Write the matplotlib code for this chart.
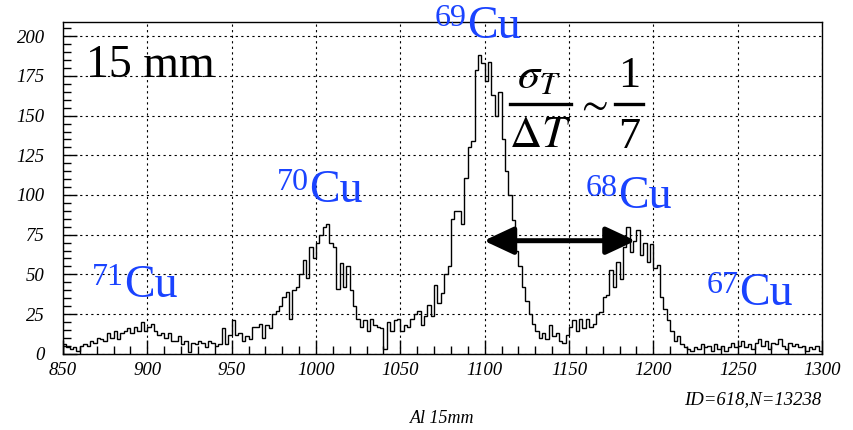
import matplotlib
matplotlib.use('Agg')
import matplotlib.pyplot as plt
import numpy as np
from matplotlib.lines import Line2D
from matplotlib.ticker import MultipleLocator

plt.rcParams['font.family'] = ['Liberation Serif', 'DejaVu Serif']
plt.rcParams['mathtext.fontset'] = 'stix'

# ---- data: 2-unit bins from 850 to 1300 ----
x_min, x_max, bin_w = 850, 1300, 2
counts_850 = [6, 4, 3, 4, 2, 5, 6, 5, 8, 7, 10, 9, 8, 13, 10, 14, 9, 13, 14, 16, 13, 17, 14, 20, 14]
counts_900 = [17, 19, 14, 12, 13, 10, 13, 8, 8, 11, 6, 8, 1, 7, 6, 8, 7, 4, 8, 7, 5, 6, 16, 6, 12]
counts_950 = [21, 12, 13, 8, 11, 9, 17, 17, 19, 10, 18, 16, 25, 27, 30, 36, 39, 22, 40, 42, 50, 59, 48, 67, 60]
counts_1000 = [70, 75, 80, 82, 70, 67, 41, 57, 42, 55, 40, 30, 22, 17, 21, 14, 22, 18, 17, 16, 3, 20, 14, 21, 22]
counts_1050 = [14, 18, 17, 22, 25, 27, 18, 24, 31, 24, 43, 32, 38, 50, 55, 85, 90, 90, 82, 111, 130, 134, 179, 188, 183]
counts_1100 = [172, 184, 163, 150, 165, 135, 115, 100, 84, 65, 55, 42, 33, 25, 19, 14, 10, 13, 9, 18, 11, 13, 8, 7, 12]
counts_1150 = [17, 21, 14, 22, 16, 22, 17, 19, 25, 26, 36, 37, 53, 42, 58, 47, 67, 80, 64, 71, 78, 62, 70, 58, 69]
counts_1200 = [54, 56, 36, 28, 21, 14, 8, 11, 6, 4, 3, 2, 4, 3, 6, 4, 5, 2, 6, 3, 5, 2, 4, 7, 4]
counts_1250 = [5, 8, 4, 6, 3, 7, 9, 5, 8, 3, 7, 6, 9, 5, 3, 7, 5, 6, 4, 5, 2, 4, 3, 5, 2]
counts = np.array(counts_850 + counts_900 + counts_950 + counts_1000 + counts_1050
                  + counts_1100 + counts_1150 + counts_1200 + counts_1250, dtype=float)
edges = np.arange(x_min, x_max + bin_w, bin_w)

isotope_mass = ['71', '70', '69', '68', '67']
element = 'Cu'
panel_label = '15 mm'
stats_label = 'ID=618,N=13238'
x_title = 'Al 15mm'
arrow_x = (1099.5, 1189.5)
arrow_y = 71.2

# ---- figure ----
W, H = 854, 430
fig = plt.figure(figsize=(W / 100, H / 100), dpi=100)
def fx(x): return x / W
def fy(y): return 1 - y / H

ax = fig.add_axes([fx(63), fy(353.7), (822 - 63) / W, (353.7 - 22) / H])
ax.stairs(counts, edges, color='black', lw=1.0)
ax.set_xlim(x_min, x_max)
ax.set_ylim(0, 209)

ax.xaxis.set_major_locator(MultipleLocator(50))
ax.xaxis.set_minor_locator(MultipleLocator(10))
ax.yaxis.set_major_locator(MultipleLocator(25))
ax.yaxis.set_minor_locator(MultipleLocator(5))
ax.tick_params(which='both', direction='in', top=False, right=False, width=1, color='black')
ax.tick_params(which='major', length=10)
ax.tick_params(which='minor', length=5.5)
ax.tick_params(axis='x', which='major', pad=6)
ax.tick_params(axis='y', which='major', pad=13)
for lab in ax.get_xticklabels() + ax.get_yticklabels():
    lab.set_fontstyle('italic')
    lab.set_fontsize(13.5)
ax.grid(True, which='major', color='black', lw=0.8, linestyle=(0, (2, 3)))
for s in ax.spines.values():
    s.set_linewidth(1.0)

ax.annotate('', xy=(arrow_x[1], arrow_y), xytext=(arrow_x[0], arrow_y),
            arrowprops=dict(arrowstyle='<|-|>,head_length=0.9,head_width=0.42',
                            lw=3.6, color='black', mutation_scale=20,
                            shrinkA=0, shrinkB=0))

# ---- text ----
fig.text(fx(86), fy(77), panel_label, fontsize=33, ha='left', va='baseline')

blue = '#1a43ff'
iso_pos = [(124, 297), (309, 202), (467, 38), (618, 208), (739, 305)]  # left of 'Cu', baseline
for mass, (xl, yb) in zip(isotope_mass, iso_pos):
    fig.text(fx(xl), fy(yb), element, fontsize=33, color=blue, ha='left', va='baseline')
    fig.text(fx(xl), fy(yb - 12), mass, fontsize=23, color=blue, ha='right', va='baseline')

fig.text(fx(517), fy(88), r'$\sigma_T$', fontsize=32, ha='left', va='baseline')
fig.text(fx(540), fy(147), r'$\Delta T$', fontsize=32, ha='center', va='baseline')
fig.text(fx(592), fy(105), r'$\sim$', fontsize=28, ha='center', va='center')
fig.text(fx(629), fy(87), '1', fontsize=32, ha='center', va='baseline')
fig.text(fx(629), fy(148), '7', fontsize=32, ha='center', va='baseline')
fig.add_artist(Line2D([fx(510), fx(571)], [fy(103.5), fy(103.5)], lw=2.4, color='black',
                      transform=fig.transFigure))
fig.add_artist(Line2D([fx(615), fx(643)], [fy(103.5), fy(103.5)], lw=2.4, color='black',
                      transform=fig.transFigure))

fig.text(fx(821), fy(404), stats_label, fontsize=13.5, style='italic', ha='right', va='baseline')
fig.text(fx(442.5), fy(423), x_title, fontsize=13, style='italic', ha='center', va='baseline')

fig.savefig('out.png', dpi=100)
